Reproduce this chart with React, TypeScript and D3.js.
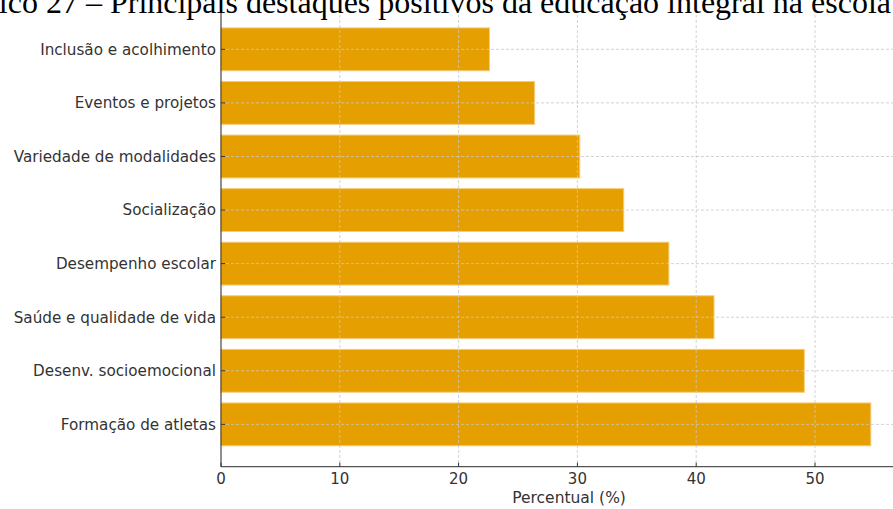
import React from "react";
import * as d3 from "d3";

const categories = [
  "Inclusão e acolhimento",
  "Eventos e projetos",
  "Variedade de modalidades",
  "Socialização",
  "Desempenho escolar",
  "Saúde e qualidade de vida",
  "Desenv. socioemocional",
  "Formação de atletas",
];
const values = [22.6, 26.4, 30.2, 33.9, 37.7, 41.5, 49.1, 54.7];
const xTicks = [0, 10, 20, 30, 40, 50];
const titleText = "Gráfico 27 – Principais destaques positivos da educação integral na escola";
const xLabel = "Percentual (%)";

const W = 893;
const H = 509;
const left = 221;
const top = 7;
const bottom = 466.7;
const unit = 11.88;
const xMax = 58.6;

export default function App() {
  const x = d3.scaleLinear().domain([0, xMax]).range([left, left + xMax * unit]);
  const y = d3
    .scaleBand<string>()
    .domain(categories)
    .range([top, bottom])
    .paddingInner(0.2)
    .paddingOuter(0.39);
  const tickFont = "'DejaVu Sans', sans-serif";
  const gridColor = "#c8c8c8";
  return (
    <svg
      width={W}
      height={H}
      style={{ position: "absolute", left: 0, top: 0, background: "#fff" }}
    >
      <rect x={0} y={0} width={W} height={H} fill="#fff" />
      {categories.map((c, i) => (
        <rect
          key={c}
          x={x(0)}
          y={y(c)!}
          width={x(values[i]) - x(0)}
          height={y.bandwidth()}
          fill="#E69F00"
          stroke="#f4cc7a"
          strokeWidth={1}
        />
      ))}
      {xTicks.slice(1).map((t) => (
        <line
          key={"gx" + t}
          x1={x(t)}
          x2={x(t)}
          y1={10}
          y2={bottom}
          stroke={gridColor}
          strokeWidth={0.8}
          strokeDasharray="3,2"
        />
      ))}
      {categories.map((c) => {
        const cy = y(c)! + y.bandwidth() / 2;
        return (
          <line
            key={"gy" + c}
            x1={left}
            x2={W}
            y1={cy}
            y2={cy}
            stroke={gridColor}
            strokeWidth={0.8}
            strokeDasharray="3,2"
          />
        );
      })}
      <line x1={left} x2={left} y1={10} y2={bottom} stroke="#333" strokeWidth={1.1} />
      <line x1={left} x2={W} y1={bottom} y2={bottom} stroke="#555" strokeWidth={1.3} />
      {xTicks.map((t) => (
        <g key={"xt" + t}>
          <line x1={x(t)} x2={x(t)} y1={bottom} y2={bottom - 4} stroke="#333" strokeWidth={1} />
          <text
            x={x(t)}
            y={bottom + 17.5}
            textAnchor="middle"
            fontFamily={tickFont}
            fontSize={15}
            fill="#333"
          >
            {t}
          </text>
        </g>
      ))}
      {categories.map((c) => {
        const cy = y(c)! + y.bandwidth() / 2;
        return (
          <g key={"yt" + c}>
            <line x1={left} x2={left + 4} y1={cy} y2={cy} stroke="#333" strokeWidth={1} />
            <text
              x={left - 5}
              y={cy}
              dy="0.35em"
              textAnchor="end"
              fontFamily={tickFont}
              fontSize={15.2}
              fill="#333"
            >
              {c}
            </text>
          </g>
        );
      })}
      <text
        x={(left + x(xMax)) / 2}
        y={bottom + 36}
        textAnchor="middle"
        fontFamily={tickFont}
        fontSize={15.5}
        fill="#333"
      >
        {xLabel}
      </text>
      <text
        x={891}
        y={13}
        textAnchor="end"
        fontFamily="'Liberation Serif', 'Times New Roman', serif"
        fontSize={32}
        fill="#000"
      >
        {titleText}
      </text>
    </svg>
  );
}
